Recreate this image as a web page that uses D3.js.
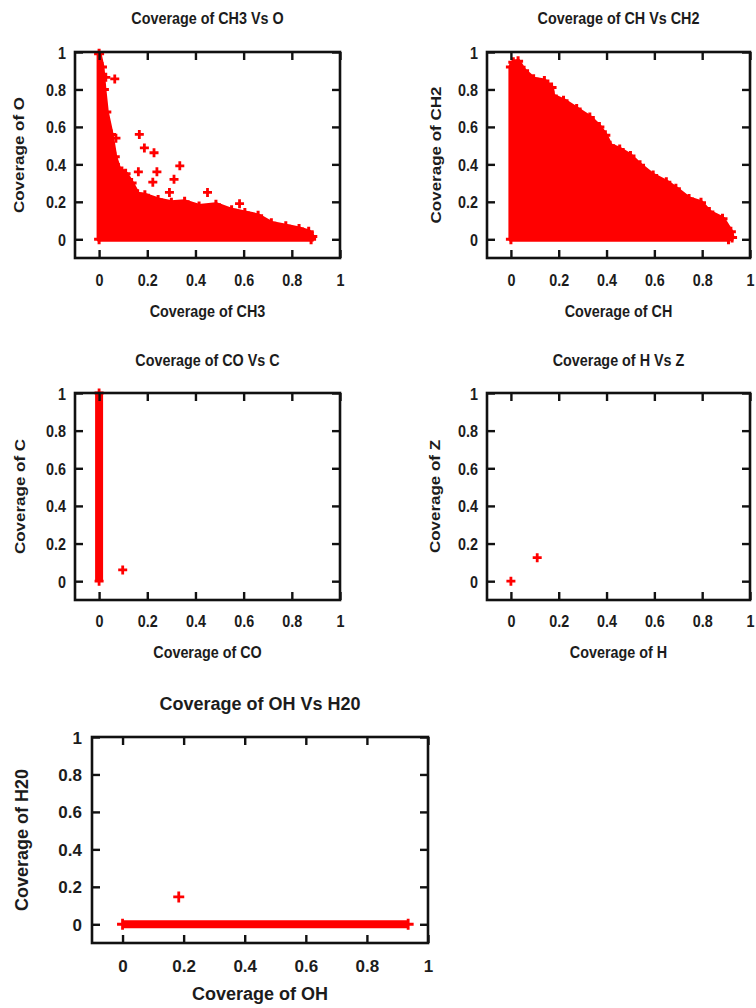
<!DOCTYPE html>
<html>
<head>
<meta charset="utf-8">
<script src="https://cdn.jsdelivr.net/npm/d3@7"></script>
<style>
  body { margin: 0; background: #fff; }
  text { font-family: "Liberation Sans", Arial, sans-serif; font-weight: bold; fill: #1c1c1c; }
</style>
</head>
<body>
<svg id="chart" width="756" height="1008"></svg>
<script>
// Shared axis ticks
const tickValues = [0, 0.2, 0.4, 0.6, 0.8, 1];
const tickLabels = ["0", "0.2", "0.4", "0.6", "0.8", "1"];
const axisDomain = [-0.1, 1];

// Panel texts
const titles  = ["Coverage of CH3 Vs O", "Coverage of CH Vs CH2", "Coverage of CO Vs C", "Coverage of H Vs Z", "Coverage of OH Vs H20"];
const xTitles = ["Coverage of CH3", "Coverage of CH", "Coverage of CO", "Coverage of H", "Coverage of OH"];
const yTitles = ["Coverage of O", "Coverage of CH2", "Coverage of C", "Coverage of Z", "Coverage of H20"];

// CH3 vs O: outer boundary of the dense point cloud, plus isolated points
const cloudCH3_O = [
  [0, 0], [0, 0.99], [0.012, 0.92], [0.02, 0.80], [0.03, 0.68], [0.05, 0.56], [0.065, 0.44],
  [0.08, 0.38], [0.11, 0.35], [0.135, 0.30], [0.16, 0.24], [0.19, 0.235], [0.245, 0.21],
  [0.30, 0.195], [0.355, 0.20], [0.415, 0.175], [0.485, 0.185], [0.55, 0.155], [0.605, 0.14],
  [0.66, 0.125], [0.715, 0.085], [0.775, 0.07], [0.83, 0.055], [0.87, 0.04], [0.885, 0.015], [0.88, 0]
];
const pointsCH3_O = [
  [0.028, 0.865], [0.065, 0.856], [0.07, 0.54], [0.167, 0.56], [0.188, 0.488], [0.228, 0.462],
  [0.335, 0.392], [0.24, 0.36], [0.163, 0.36], [0.311, 0.32], [0.223, 0.305], [0.292, 0.25],
  [0.45, 0.25], [0.583, 0.19]
];

// CH vs CH2: outer boundary of the dense point cloud
const cloudCH_CH2 = [
  [0, 0], [0, 0.92], [0.01, 0.945], [0.03, 0.95], [0.055, 0.9], [0.095, 0.855], [0.14, 0.845],
  [0.17, 0.81], [0.175, 0.765], [0.22, 0.74], [0.275, 0.695], [0.33, 0.65], [0.37, 0.6],
  [0.395, 0.555], [0.415, 0.5], [0.455, 0.48], [0.5, 0.445], [0.54, 0.395], [0.595, 0.34],
  [0.65, 0.305], [0.69, 0.27], [0.745, 0.215], [0.795, 0.195], [0.83, 0.145], [0.885, 0.11],
  [0.92, 0.04], [0.925, 0.01], [0.91, 0]
];
const pointsCH_CH2 = [];

// CO vs C: a continuous run of points along CO = 0, plus one isolated point
const stripCO_C = [[0, 0], [0, 1]];
const pointsCO_C = [[0.098, 0.06]];

// H vs Z
const pointsH_Z = [[0, 0], [0.11, 0.125]];

// OH vs H20: a continuous run of points along H20 = 0, plus one isolated point
const stripOH_H20 = [[0, 0], [0.935, 0]];
const pointsOH_H20 = [[0.184, 0.146]];

// Panel placement on the page
const panels = [
  { x: [75, 340],  y: [258, 52],  titleY: 24,  xtickY: 286, xlabY: 317, ytickX: 66,  ylabX: 24,  sx: 0.845, fs: 17, tfs: 17, mk: 4.5,
    cloud: cloudCH3_O, strip: null, points: pointsCH3_O },
  { x: [487, 750], y: [258, 52],  titleY: 24,  xtickY: 286, xlabY: 317, ytickX: 478, ylabX: 441, sx: 0.845, fs: 17, tfs: 17, mk: 4.5,
    cloud: cloudCH_CH2, strip: null, points: pointsCH_CH2 },
  { x: [75, 340],  y: [600, 393], titleY: 366, xtickY: 627, xlabY: 658, ytickX: 66,  ylabX: 25,  sx: 0.845, fs: 17, tfs: 17, mk: 4.5,
    cloud: null, strip: stripCO_C, points: pointsCO_C },
  { x: [487, 750], y: [600, 393], titleY: 366, xtickY: 627, xlabY: 658, ytickX: 478, ylabX: 440, sx: 0.845, fs: 17, tfs: 17, mk: 4.5,
    cloud: null, strip: null, points: pointsH_Z },
  { x: [92, 428],  y: [943, 737], titleY: 710, xtickY: 972, xlabY: 1000, ytickX: 82, ylabX: 28,  sx: 1, fs: 18, tfs: 17, mk: 5.5,
    cloud: null, strip: stripOH_H20, points: pointsOH_H20 }
];

const svg = d3.select("#chart");
const RED = "#ff0000";

const plus = (cx, cy, m) => `M${cx - m},${cy}H${cx + m}M${cx},${cy - m}V${cy + m}`;

panels.forEach((p, i) => {
  const x = d3.scaleLinear().domain(axisDomain).range(p.x);
  const y = d3.scaleLinear().domain(axisDomain).range(p.y);
  const g = svg.append("g");
  const fmt = d => tickLabels[tickValues.indexOf(d)];

  // Data layer
  const plot = g.append("g");
  if (p.cloud) {
    plot.append("path")
      .datum(p.cloud)
      .attr("d", d3.line().x(d => x(d[0])).y(d => y(d[1])).curve(d3.curveLinearClosed))
      .attr("fill", RED).attr("stroke", RED)
      .attr("stroke-width", 5).attr("stroke-linejoin", "round");
    // boundary points of the cloud, drawn as full-size markers
    plot.selectAll("path.edge").data(p.cloud).join("path")
      .attr("class", "edge")
      .attr("d", d => plus(x(d[0]), y(d[1]), 5))
      .attr("stroke", RED).attr("stroke-width", 3).attr("fill", "none");
  }
  if (p.strip) {
    plot.append("path")
      .datum(p.strip)
      .attr("d", d3.line().x(d => x(d[0])).y(d => y(d[1])))
      .attr("fill", "none").attr("stroke", RED)
      .attr("stroke-width", 8);
    plot.selectAll("path.end").data(p.strip).join("path")
      .attr("class", "end")
      .attr("d", d => plus(x(d[0]), y(d[1]), p.mk))
      .attr("stroke", RED).attr("stroke-width", 2.8).attr("fill", "none");
  }
  plot.selectAll("path.pt").data(p.points).join("path")
    .attr("class", "pt")
    .attr("d", d => plus(x(d[0]), y(d[1]), p.mk))
    .attr("stroke", RED).attr("stroke-width", 2.8).attr("fill", "none");

  // Axes with inward ticks on every side
  const [fx0, fx1] = p.x, [fy0, fy1] = p.y;
  const tk = 8;
  const bottom = g.append("g").attr("transform", `translate(0,${fy0})`)
    .call(d3.axisBottom(x).tickValues(tickValues).tickFormat(fmt).tickSize(-tk).tickSizeOuter(0));
  const top = g.append("g").attr("transform", `translate(0,${fy1})`)
    .call(d3.axisTop(x).tickValues(tickValues).tickFormat("").tickSize(-tk).tickSizeOuter(0));
  const left = g.append("g").attr("transform", `translate(${fx0},0)`)
    .call(d3.axisLeft(y).tickValues(tickValues).tickFormat(fmt).tickSize(-tk).tickSizeOuter(0));
  const right = g.append("g").attr("transform", `translate(${fx1},0)`)
    .call(d3.axisRight(y).tickValues(tickValues).tickFormat("").tickSize(-tk).tickSizeOuter(0));
  [bottom, top, left, right].forEach(a => {
    a.select(".domain").remove();
    a.selectAll(".tick line").attr("stroke", "#111").attr("stroke-width", 2.4);
  });

  bottom.selectAll(".tick text")
    .attr("y", p.xtickY - fy0).attr("dy", null)
    .attr("transform", `scale(${p.sx},1)`)
    .style("font-size", p.tfs + "px").attr("fill", "#1c1c1c");
  left.selectAll(".tick text")
    .attr("x", null).attr("dy", null).attr("y", 6)
    .attr("text-anchor", "end")
    .attr("transform", `translate(${p.ytickX - fx0},0) scale(${p.sx},1)`)
    .style("font-size", p.tfs + "px").attr("fill", "#1c1c1c");

  // Frame
  g.append("rect")
    .attr("x", fx0).attr("y", fy1)
    .attr("width", fx1 - fx0).attr("height", fy0 - fy1)
    .attr("fill", "none").attr("stroke", "#111").attr("stroke-width", 2.6);

  const cx = (fx0 + fx1) / 2, cy = (fy0 + fy1) / 2;
  g.append("text").text(titles[i])
    .attr("text-anchor", "middle").style("font-size", p.fs + "px")
    .attr("transform", `translate(${cx},${p.titleY}) scale(${p.sx},1)`);
  g.append("text").text(xTitles[i])
    .attr("text-anchor", "middle").style("font-size", p.fs + "px")
    .attr("transform", `translate(${cx},${p.xlabY}) scale(${p.sx},1)`);
  g.append("text").text(yTitles[i])
    .attr("text-anchor", "middle").style("font-size", p.fs + "px")
    .attr("transform", `translate(${p.ylabX},${cy}) rotate(-90) scale(1,${p.sx})`);
});
</script>
</body>
</html>
